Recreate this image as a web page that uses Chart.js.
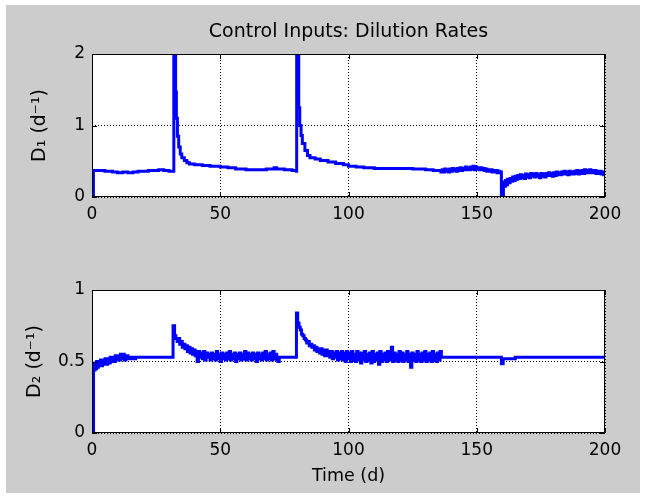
<!DOCTYPE html>
<html><head><meta charset="utf-8">
<script src="https://cdn.jsdelivr.net/npm/chart.js@4"></script>
<style>
html,body{margin:0;padding:0;background:#fff;width:662px;height:499px;overflow:hidden}
#fig{position:absolute;left:6px;top:5px;width:634px;height:488px;background:#cccccc}
canvas{position:absolute;left:0}
#c1{top:0;width:662px;height:250px}
#c2{top:250px;width:662px;height:249px}
</style></head><body>
<div id="fig"></div>
<canvas id="c1" width="662" height="250"></canvas>
<canvas id="c2" width="662" height="249"></canvas>
<script>
// ---- Text and ticks ----
const chartTitle = "Control Inputs: Dilution Rates";
const xTitle = "Time (d)";
const y1Title = "D\u2081 (d\u207B\u00B9)";
const y2Title = "D\u2082 (d\u207B\u00B9)";
const xTicks = [0, 50, 100, 150, 200];
const y1Ticks = [0, 1, 2];
const y2Ticks = [0, 0.5, 1];

// ---- D1 (top panel), in segments ----
const d1TimeA = [0,0.55,2,5,8,10,12,14,16,18, 20,22,24,26,28,30,31.8,31.9,32.4,32.6, 32.9,33.3,33.8,34.4,35,36,37,38,40,43, 46,50,53,56,60,64,68,70,71,72, 75,78,79.7];
const d1ValA  = [0,0.37,0.37,0.36,0.35,0.34,0.35,0.34,0.35,0.36, 0.36,0.37,0.37,0.38,0.37,0.36,0.36,2.3,2.3,1.47, 1.1,0.85,0.7,0.6,0.55,0.51,0.48,0.46,0.45,0.44, 0.43,0.42,0.41,0.39,0.38,0.38,0.39,0.39,0.41,0.39, 0.38,0.37,0.36];
const d1TimeB = [79.8,80.4,80.6,81,81.5,82,83,84,85,87, 89,92,95,98,100,103,106,110,115,120, 125,130,133];
const d1ValB  = [2.3,2.3,1.25,1.0,0.86,0.75,0.65,0.58,0.55,0.53, 0.51,0.49,0.47,0.45,0.43,0.42,0.41,0.40,0.40,0.40, 0.39,0.38,0.37];
const d1TimeC = [135.5,136,136.5,137,137.5,138,138.5,139,139.5,140, 140.5,141,141.5,142,142.5,143,143.5,144,144.5,145, 145.5,146,146.5,147,147.5,148,148.5,149,149.5,150, 150.5,151,151.5,152,152.5,153,153.5,154,154.5,155, 155.5,156,156.5,157,157.5,158,158.5,159,159.6,160.3];
const d1ValC  = [0.37,0.35,0.38,0.35,0.39,0.36,0.38,0.35,0.39,0.36, 0.40,0.37,0.39,0.36,0.40,0.37,0.41,0.37,0.40,0.38, 0.42,0.38,0.41,0.38,0.42,0.39,0.43,0.38,0.42,0.39, 0.41,0.38,0.41,0.38,0.40,0.37,0.39,0.36,0.38,0.36, 0.38,0.35,0.37,0.35,0.37,0.34,0.36,0.35,0,0];
const d1TimeD = [160.4,160.8,161.2,161.6,162,162.5,163,163.5,164,164.5, 165,165.5,166,166.5,167,167.5,168,168.5,169,169.5, 170,170.5,171,171.5,172,172.5,173,173.5,174,174.5, 175,175.5,176,176.5,177,177.5,178,178.5,179,179.5, 180,180.5,181,181.5,182,182.5,183,183.5,184,184.5, 185,185.5,186,186.5,187,187.5,188,188.5,189,189.5, 190,190.5,191,191.5,192,192.5,193,193.5,194,194.5, 195,195.5,196,196.5,197,197.5,198,198.5,199,199.5, 200];
const d1ValD  = [0.21,0.15,0.23,0.17,0.25,0.20,0.26,0.22,0.28,0.23, 0.29,0.25,0.30,0.26,0.31,0.27,0.30,0.26,0.32,0.28, 0.31,0.27,0.33,0.29,0.32,0.28,0.33,0.29,0.31,0.27, 0.33,0.29,0.32,0.28,0.33,0.30,0.34,0.30,0.33,0.29, 0.34,0.30,0.35,0.31,0.34,0.31,0.35,0.32,0.36,0.32, 0.35,0.31,0.36,0.32,0.35,0.32,0.36,0.33,0.37,0.32, 0.36,0.33,0.37,0.33,0.38,0.34,0.37,0.34,0.38,0.34, 0.37,0.34,0.37,0.33,0.36,0.33,0.36,0.32,0.35,0.31, 0.33];

// ---- D2 (bottom panel), in segments ----
const d2TimeA = [0,0.6,0.9,1.2,1.5,1.8,2.1,2.5,2.9,3.3, 3.7,4.1,4.6,5.1,5.6,6.1,6.6,7.1,7.6,8.1, 8.6,9.1,9.6,10.1,10.6,11.1,11.6,12.1,12.6,13.2, 14,15,16,17];
const d2ValA  = [0,0.48,0.44,0.49,0.45,0.50,0.46,0.50,0.47,0.51, 0.47,0.51,0.48,0.52,0.48,0.52,0.49,0.53,0.50,0.53, 0.50,0.54,0.51,0.54,0.51,0.55,0.52,0.55,0.51,0.54, 0.52,0.53,0.52,0.53];
const d2TimeB = [31.6,32.2,32.7,33.2,33.7,34.2,34.7,35.2,35.7,36.2, 36.7,37.2,37.7,38.2,38.7,39.2,39.7,40.2,40.7,41, 41.5,42,42.5,43,43.5,44,44.5,45,45.5,46, 46.5,47,47.5,48,48.5,49,49.5,50,50.5,51, 51.5,52,52.5,53,53.5,54,54.5,55,55.5,56, 56.5,57,57.5,58,58.5,59,59.5,60,60.5,61, 61.5,62,62.5,63,63.5,64,64.5,65,65.5,66, 66.5,67,67.5,68,68.5,69,69.5,70,70.5,71, 71.5,72,72.5,73];
const d2ValB  = [0.75,0.68,0.66,0.64,0.66,0.62,0.64,0.60,0.62,0.59, 0.61,0.57,0.60,0.56,0.59,0.55,0.58,0.54,0.57,0.50, 0.57,0.53,0.56,0.52,0.57,0.51,0.56,0.53,0.55,0.51, 0.56,0.52,0.55,0.51,0.57,0.52,0.55,0.50,0.56,0.52, 0.55,0.51,0.56,0.52,0.57,0.51,0.55,0.52,0.56,0.50, 0.55,0.52,0.56,0.51,0.55,0.52,0.57,0.51,0.56,0.52, 0.55,0.51,0.56,0.52,0.55,0.50,0.56,0.52,0.55,0.51, 0.56,0.52,0.57,0.51,0.55,0.52,0.56,0.51,0.57,0.52, 0.55,0.51,0.50,0.53];
const d2TimeC = [79.7,80.2,80.7,81.2,81.7,82.2,82.7,83.2,83.7,84.2, 84.7,85.2,85.7,86.2,86.7,87.2,87.7,88.2,88.7,89.2, 89.7,90.2,90.7,91.2,91.7,92.2,92.7,93.2,93.7,94.2, 94.7,95.2,95.7,96.2,96.7,97.2,97.7,98.2,98.7,99.2, 99.7,100.2,100.7,101.2,101.7,102.2,102.7,103.2,103.7,104.2, 104.7,105.2,105.7,106.2,106.7,107.2,107.7,108.2,108.7,109.2, 109.7,110.2,110.7,111.2,111.7,112.2,112.7,113.2,113.7,114.2, 114.7,115.2,115.7,116.2,116.7,117.2,117.7,118.2,118.7,119.2, 119.7,120.2,120.7,121.2,121.7,122.2,122.7,123.2,123.7,124.2, 124.7,125.2,125.7,126.2,126.7,127.2,127.7,128.2,128.7,129.2, 129.7,130.2,130.7,131.2,131.7,132.2,132.7,133.2,133.7,134.2, 134.7,135.2,135.7,136.2];
const d2ValC  = [0.84,0.77,0.74,0.72,0.69,0.68,0.66,0.65,0.63,0.64, 0.61,0.62,0.60,0.61,0.58,0.60,0.57,0.59,0.56,0.59, 0.55,0.58,0.54,0.58,0.54,0.57,0.53,0.57,0.52,0.56, 0.53,0.57,0.51,0.56,0.52,0.57,0.51,0.56,0.50,0.57, 0.52,0.56,0.50,0.57,0.51,0.55,0.50,0.57,0.51,0.56, 0.49,0.56,0.51,0.57,0.50,0.55,0.51,0.56,0.49,0.57, 0.50,0.55,0.51,0.56,0.48,0.57,0.50,0.55,0.51,0.56, 0.50,0.57,0.51,0.55,0.60,0.50,0.56,0.51,0.55,0.50, 0.57,0.51,0.56,0.50,0.55,0.51,0.57,0.50,0.55,0.46, 0.56,0.51,0.55,0.50,0.57,0.51,0.55,0.50,0.56,0.51, 0.57,0.50,0.55,0.51,0.56,0.50,0.57,0.51,0.55,0.50, 0.56,0.51,0.57,0.53];
const d2TimeD = [159.6,160.3,165,200];
const d2ValD  = [0.485,0.52,0.53,0.53];

const t1 = [...d1TimeA, ...d1TimeB, ...d1TimeC, ...d1TimeD];
const d1 = [...d1ValA, ...d1ValB, ...d1ValC, ...d1ValD];
const t2 = [...d2TimeA, ...d2TimeB, ...d2TimeC, ...d2TimeD];
const d2 = [...d2ValA, ...d2ValB, ...d2ValC, ...d2ValD];

// ---- Styling / helpers ----
const FONT = "'DejaVu Sans', sans-serif";
const toXY = (ts, vs) => ts.map((t, i) => ({x: t, y: vs[i]}));

const matlabFrame = {
  id: 'matlabFrame',
  beforeDraw(chart) {
    const {ctx, chartArea: a} = chart;
    ctx.save();
    ctx.fillStyle = '#ffffff';
    ctx.fillRect(a.left, a.top, a.right - a.left, a.bottom - a.top);
    ctx.restore();
  },
  afterDraw(chart) {
    const {ctx, chartArea: a} = chart;
    const xs = chart.scales.x, ys = chart.scales.y;
    ctx.save();
    ctx.strokeStyle = '#000';
    ctx.lineWidth = 1;
    ctx.strokeRect(a.left + 0.5, a.top + 0.5, a.right - a.left - 1, a.bottom - a.top - 1);
    const L = 5;
    ctx.beginPath();
    xs.ticks.forEach(t => {
      const p = Math.round(xs.getPixelForValue(t.value)) + 0.5;
      ctx.moveTo(p, a.bottom); ctx.lineTo(p, a.bottom - L);
      ctx.moveTo(p, a.top); ctx.lineTo(p, a.top + L);
    });
    ys.ticks.forEach(t => {
      const p = Math.round(ys.getPixelForValue(t.value)) + 0.5;
      ctx.moveTo(a.left, p); ctx.lineTo(a.left + L, p);
      ctx.moveTo(a.right, p); ctx.lineTo(a.right - L, p);
    });
    ctx.stroke();
    ctx.restore();
  }
};

function makeChart(id, opts) {
  const scales = {
    x: {
      type: 'linear', min: 0, max: 200,
      afterBuildTicks: s => { s.ticks = xTicks.map(v => ({value: v})); },
      afterFit: s => { s.height = opts.xHeight; },
      ticks: {color: '#000', font: {family: FONT, size: 17}, padding: 7, maxRotation: 0,
              callback: v => String(v)},
      grid: {color: '#000', lineWidth: 1, drawTicks: false},
      border: {display: false, dash: [1, 2]},
      title: opts.xTitle ? {display: true, text: opts.xTitle, color: '#000',
              font: {family: FONT, size: 17.5, lineHeight: 1.2}, padding: {top: 0, bottom: 12}} : {display: false}
    },
    y: {
      type: 'linear', min: opts.yTicks[0], max: opts.yTicks[opts.yTicks.length - 1],
      afterBuildTicks: s => { s.ticks = opts.yTicks.map(v => ({value: v})); },
      afterFit: s => { s.width = 92; },
      ticks: {color: '#000', font: {family: FONT, size: 17}, padding: 7,
              callback: v => String(v)},
      grid: {color: '#000', lineWidth: 1, drawTicks: false},
      border: {display: false, dash: [1, 2]},
      title: {display: true, text: opts.yTitle, color: '#000',
              font: {family: FONT, size: 19, lineHeight: 1.2}, padding: {top: opts.yTitlePad, bottom: 0}}
    }
  };
  if (opts.title) {
    scales.xTop = {
      type: 'linear', position: 'top', min: 0, max: 200,
      afterFit: s => { s.height = 54; },
      ticks: {display: false},
      grid: {display: false, drawTicks: false},
      border: {display: false},
      title: {display: true, text: opts.title, color: '#000',
              font: {family: FONT, size: 19, lineHeight: 1.2}, padding: {top: 21, bottom: 0}}
    };
  }
  return new Chart(document.getElementById(id), {
    type: 'line',
    data: {
      datasets: [{
        data: toXY(opts.t, opts.d),
        borderColor: '#0000ff',
        borderWidth: 3,
        pointRadius: 0,
        stepped: 'before',
        fill: false,
        clip: 0,
        xAxisID: 'x', yAxisID: 'y'
      }]
    },
    options: {
      responsive: false,
      animation: false,
      devicePixelRatio: 1,
      layout: {padding: {left: 0, right: 57, top: opts.padTop, bottom: 0}},
      plugins: {legend: {display: false}, tooltip: {enabled: false}, title: {display: false}},
      scales
    },
    plugins: [matlabFrame]
  });
}

makeChart('c1', {t: t1, d: d1, yTicks: y1Ticks, yTitle: y1Title, title: chartTitle,
  padTop: 0, xHeight: 53, yTitlePad: 29});
makeChart('c2', {t: t2, d: d2, yTicks: y2Ticks, yTitle: y2Title, xTitle: xTitle,
  padTop: 40, xHeight: 66, yTitlePad: 24});
</script>
</body></html>
